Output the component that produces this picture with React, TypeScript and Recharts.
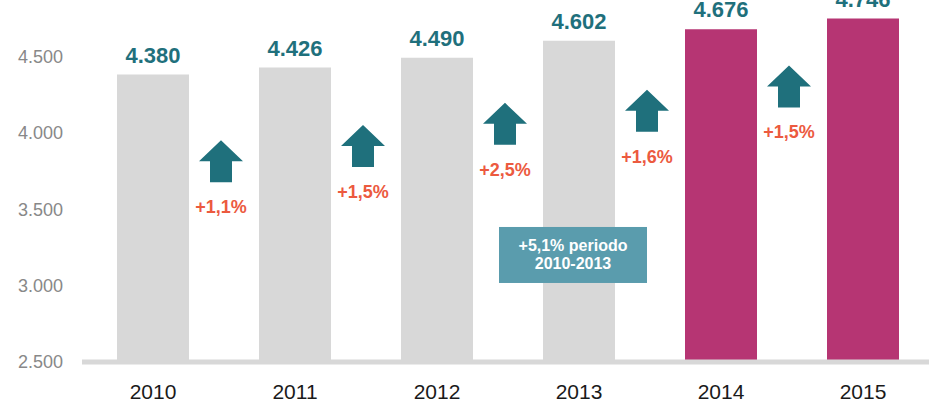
import React from 'react';
import {
  ComposedChart,
  Bar,
  Cell,
  Scatter,
  XAxis,
  YAxis,
  LabelList,
  ReferenceDot,
} from 'recharts';

// chart data
const years = ['2010', '2011', '2012', '2013', '2014', '2015'];
const values = [4380, 4426, 4490, 4602, 4676, 4746];
const forecastYears = ['2014', '2015'];
// growth from each year to the next one
const growthLabels = ['+1,1%', '+1,5%', '+2,5%', '+1,6%', '+1,5%'];
// height (in chart units) at which each growth arrow sits
const arrowLevels = [3950, 4050, 4195, 4280, 4440];
const yTicks = [2500, 3000, 3500, 4000, 4500];
const periodNote = ['+5,1% periodo', '2010-2013'];

const CHART_W = 945;
const CHART_H = 403;
const Y_AXIS_W = 82;
const MARGIN = { top: 18, right: 11, left: 0, bottom: 0 };
const HALF_BAND = (CHART_W - Y_AXIS_W - MARGIN.right) / years.length / 2;

const FONT = '"Liberation Sans", Helvetica, Arial, sans-serif';
const TEAL = '#1f707c';
const GREY = '#d8d8d8';
const MAGENTA = '#b63573';
const ORANGE = '#ec5a3f';

const data = years.map((year, i) => ({
  year,
  value: values[i],
  arrow: i < growthLabels.length ? arrowLevels[i] : null,
  growth: growthLabels[i],
}));

const fmt = (v: number) => String(v).replace(/\B(?=(\d{3})+(?!\d))/g, '.');

function ArrowShape(props: any) {
  const { cx, cy, payload } = props;
  if (!payload || !payload.growth || !isFinite(cx) || !isFinite(cy)) return <g />;
  const x = cx + HALF_BAND - 3;
  const y = cy;
  const pts = [
    [x, y],
    [x + 22, y + 21],
    [x + 11, y + 21],
    [x + 11, y + 42],
    [x - 11, y + 42],
    [x - 11, y + 21],
    [x - 22, y + 21],
  ]
    .map((p) => p.join(','))
    .join(' ');
  return (
    <g>
      <polygon points={pts} fill={TEAL} />
      <text
        x={x}
        y={y + 73}
        textAnchor="middle"
        fill={ORANGE}
        fontSize={18}
        fontWeight="bold"
        fontFamily={FONT}
      >
        {payload.growth}
      </text>
    </g>
  );
}

function NoteBox(props: any) {
  const { cx, cy } = props;
  const x = cx - 6;
  return (
    <g>
      <rect x={x - 74} y={cy - 28} width={148} height={56} fill="#5a9cad" />
      {periodNote.map((line, i) => (
        <text
          key={line}
          x={x}
          y={cy - 4 + i * 18}
          textAnchor="middle"
          fill="#ffffff"
          fontSize={16}
          fontWeight="bold"
          fontFamily={FONT}
        >
          {line}
        </text>
      ))}
    </g>
  );
}

export default function App() {
  return (
    <div
      style={{
        position: 'fixed',
        left: 0,
        top: 0,
        width: 929,
        height: 403,
        overflow: 'hidden',
        background: '#fff',
      }}
    >
      <ComposedChart width={CHART_W} height={CHART_H} data={data} margin={MARGIN}>
        <XAxis
          dataKey="year"
          height={41}
          tickLine={false}
          tickSize={0}
          tickMargin={22}
          axisLine={{ stroke: GREY, strokeWidth: 5 }}
          tick={{ fill: '#1a1a1a', fontSize: 21, fontFamily: FONT }}
        />
        <YAxis
          width={Y_AXIS_W}
          domain={[2500, 4750]}
          allowDataOverflow
          ticks={yTicks}
          tickFormatter={fmt}
          axisLine={false}
          tickLine={false}
          tickSize={0}
          tickMargin={19}
          tick={{ fill: '#888888', fontSize: 18, fontFamily: FONT }}
        />
        <Bar dataKey="value" barSize={72} isAnimationActive={false}>
          {data.map((d) => (
            <Cell key={d.year} fill={forecastYears.includes(d.year) ? MAGENTA : GREY} />
          ))}
          <LabelList
            dataKey="value"
            position="top"
            offset={12}
            formatter={(v: any) => fmt(Number(v))}
            fill={TEAL}
            fontSize={22}
            fontWeight="bold"
            fontFamily={FONT}
          />
        </Bar>
        <Scatter dataKey="arrow" shape={ArrowShape} isAnimationActive={false} />
        <ReferenceDot x="2013" y={3200} r={0} shape={NoteBox} ifOverflow="visible" />
      </ComposedChart>
    </div>
  );
}
